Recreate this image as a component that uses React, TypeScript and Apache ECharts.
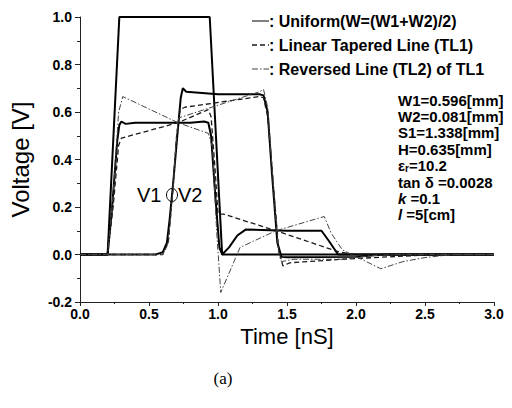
import React, { useEffect, useRef } from "react";
import * as echarts from "echarts";

// ---- data (time in ns, voltage in V) ----
const sourceT = [0, 0.2, 0.285, 0.94, 1.03, 3.0];
const sourceV = [0, 0, 1.0, 1.0, 0, 0];

const uniV1T = [0, 0.2, 0.23, 0.27, 0.285, 0.3, 0.33, 0.4, 0.6, 0.8, 0.9, 0.93, 0.95, 0.98, 1.01, 1.03, 1.08, 1.14, 1.2, 1.5, 1.75, 1.8, 1.87, 2.0, 3.0];
const uniV1V = [0, 0, 0.18, 0.48, 0.545, 0.56, 0.55, 0.555, 0.555, 0.555, 0.56, 0.555, 0.5, 0.25, 0.03, 0, 0.03, 0.08, 0.105, 0.1, 0.1, 0.06, 0.0, 0, 0];

const uniV2T = [0, 0.55, 0.6, 0.63, 0.65, 0.675, 0.705, 0.73, 0.745, 0.77, 1.0, 1.3, 1.33, 1.36, 1.39, 1.43, 1.46, 1.5, 2.0, 2.2, 3.0];
const uniV2V = [0, 0, 0.01, 0.05, 0.15, 0.3, 0.5, 0.66, 0.7, 0.685, 0.675, 0.675, 0.67, 0.6, 0.35, 0.05, -0.01, -0.012, -0.01, 0, 0];

const tl1V1T = [0, 0.2, 0.24, 0.28, 0.3, 0.71, 0.93, 0.95, 0.98, 1.0, 1.04, 1.42, 1.88, 2.0, 3.0];
const tl1V1V = [0, 0, 0.2, 0.46, 0.49, 0.555, 0.61, 0.58, 0.35, 0.17, 0.17, 0.1, 0.01, 0, 0];

const tl1V2T = [0, 0.6, 0.64, 0.67, 0.7, 0.725, 0.76, 1.3, 1.33, 1.36, 1.4, 1.44, 1.47, 1.52, 1.9, 2.3, 2.6, 3.0];
const tl1V2V = [0, 0, 0.05, 0.25, 0.5, 0.61, 0.62, 0.665, 0.66, 0.58, 0.3, 0.02, -0.048, -0.035, -0.02, -0.008, 0, 0];

const tl2V1T = [0, 0.2, 0.24, 0.28, 0.31, 0.71, 0.93, 0.96, 0.99, 1.02, 1.16, 1.42, 1.77, 1.82, 1.9, 2.18, 2.34, 2.5, 2.7, 3.0];
const tl2V1V = [0, 0, 0.25, 0.6, 0.665, 0.555, 0.51, 0.45, 0.1, -0.16, 0.03, 0.1, 0.16, 0.09, 0.02, -0.06, -0.03, -0.013, 0, 0];

const tl2V2T = [0, 0.6, 0.64, 0.67, 0.7, 0.715, 1.3, 1.33, 1.36, 1.4, 1.44, 1.46, 1.55, 1.9, 2.1, 2.3, 3.0];
const tl2V2V = [0, 0, 0.05, 0.25, 0.5, 0.575, 0.685, 0.695, 0.62, 0.3, 0.0, -0.03, -0.02, -0.02, -0.005, 0, 0];

const xTicks = { min: 0, max: 3, interval: 0.5 };
const yTicks = { min: -0.2, max: 1.0, interval: 0.2 };

const legendLabels = [": Uniform(W=(W1+W2)/2)", ": Linear Tapered Line (TL1)", ": Reversed Line (TL2) of TL1"];
const paramLines = [
  "{n|W1=0.596[mm]}",
  "{n|W2=0.081[mm]}",
  "{n|S1=1.338[mm]}",
  "{n|H=0.635[mm]}",
  "{n|ε}{s|r}{n|=10.2}",
  "{n|tan δ =0.0028}",
  "{i|k}{n| =0.1}",
  "{i|l}{n| =5[cm]}",
];

const pairs = (t: number[], v: number[]) => t.map((x, i) => [x, v[i]]);

const FAM = "Liberation Sans";

export default function App() {
  const ref = useRef<HTMLDivElement>(null);
  useEffect(() => {
    if (!ref.current) return;
    const chart = echarts.init(ref.current, null, { renderer: "svg" });
    const solid = { color: "#000", width: 2, type: "solid" as const };
    const dashed = { color: "#1a1a1a", width: 1.3, type: [5, 3] as any };
    const dashdot = { color: "#444", width: 1, type: [6, 2, 1.5, 2] as any };
    const mk = (name: string, t: number[], v: number[], ls: any) => ({
      name,
      type: "line",
      data: pairs(t, v),
      showSymbol: false,
      symbol: "none",
      lineStyle: ls,
      silent: true,
    });
    const legendY = [21, 45, 69];
    const legendStyles = [solid, dashed, dashdot];
    const graphics: any[] = [];
    legendY.forEach((y, i) => {
      graphics.push({
        type: "line",
        shape: { x1: 252, y1: y, x2: 269, y2: y },
        style: { stroke: legendStyles[i].color, lineWidth: i === 0 ? 1 : legendStyles[i].width, lineDash: i === 0 ? null : legendStyles[i].type },
      });
      graphics.push({
        type: "text",
        x: 269,
        y: y,
        style: { text: legendLabels[i], fontSize: 16, fontWeight: "bold", fontFamily: FAM, fill: "#000", verticalAlign: "middle", align: "left" },
      });
    });
    paramLines.forEach((s, i) => {
      graphics.push({
        type: "text",
        x: 398,
        y: 100 + i * 16.4,
        style: {
          text: s,
          fontSize: 15,
          fontWeight: "bold",
          fontFamily: FAM,
          fill: "#000",
          verticalAlign: "middle",
          align: "left",
          rich: {
            n: { fontSize: 15, lineHeight: 15, fontWeight: "bold", fontFamily: FAM },
            s: { fontSize: 10, lineHeight: 9, fontWeight: "bold", fontFamily: FAM, padding: [6, 0, 0, 0] },
            i: { fontSize: 15, lineHeight: 15, fontWeight: "bold", fontFamily: FAM, fontStyle: "italic" },
          },
        },
      });
    });
    graphics.push({ type: "text", x: 137, y: 195, style: { text: "V1", fontSize: 20, fontFamily: FAM, fill: "#000", verticalAlign: "middle" } });
    graphics.push({ type: "ellipse", shape: { cx: 172, cy: 195, rx: 5.5, ry: 6.5 }, style: { fill: "none", stroke: "#000", lineWidth: 1 } });
    graphics.push({ type: "text", x: 178, y: 195, style: { text: "V2", fontSize: 20, fontFamily: FAM, fill: "#000", verticalAlign: "middle" } });
    graphics.push({ type: "text", x: 223, y: 378, style: { text: "(a)", fontSize: 17, fontFamily: "Liberation Serif", fill: "#000", verticalAlign: "middle", align: "center" } });

    chart.setOption({
      animation: false,
      textStyle: { fontFamily: FAM },
      grid: { left: 80, right: 18, top: 17, bottom: 106, containLabel: false },
      xAxis: {
        type: "value",
        ...xTicks,
        name: "Time [nS]",
        nameLocation: "middle",
        nameGap: 17,
        nameTextStyle: { fontSize: 22, fontFamily: FAM, color: "#000" },
        axisLine: { show: true, onZero: false, lineStyle: { color: "#222", width: 1 } },
        axisTick: { show: true, length: 4, lineStyle: { color: "#222" } },
        minorTick: { show: true, splitNumber: 2, length: 2, lineStyle: { color: "#222" } },
        splitLine: { show: false },
        axisLabel: { fontSize: 14, fontFamily: FAM, fontWeight: "bold", color: "#000", margin: 5, formatter: (v: number) => v.toFixed(1) },
      },
      yAxis: {
        type: "value",
        ...yTicks,
        name: "Voltage [V]",
        nameLocation: "middle",
        nameGap: 48,
        nameTextStyle: { fontSize: 24, fontFamily: FAM, color: "#000" },
        axisLine: { show: true, onZero: false, lineStyle: { color: "#222", width: 1 } },
        axisTick: { show: true, length: 5, lineStyle: { color: "#222" } },
        minorTick: { show: true, splitNumber: 2, length: 3, lineStyle: { color: "#222" } },
        splitLine: { show: false },
        axisLabel: { fontSize: 14, fontFamily: FAM, fontWeight: "bold", color: "#000", margin: 8, formatter: (v: number) => v.toFixed(1) },
      },
      series: [
        mk("Source", sourceT, sourceV, solid),
        mk("Uniform V1", uniV1T, uniV1V, solid),
        mk("Uniform V2", uniV2T, uniV2V, solid),
        mk("TL1 V1", tl1V1T, tl1V1V, dashed),
        mk("TL1 V2", tl1V2T, tl1V2V, dashed),
        mk("TL2 V1", tl2V1T, tl2V1V, dashdot),
        mk("TL2 V2", tl2V2T, tl2V2V, dashdot),
      ],
      graphic: graphics,
    });
    return () => chart.dispose();
  }, []);
  return <div ref={ref} style={{ width: 512, height: 408, position: "absolute", left: 0, top: 0, background: "#fff" }} />;
}
